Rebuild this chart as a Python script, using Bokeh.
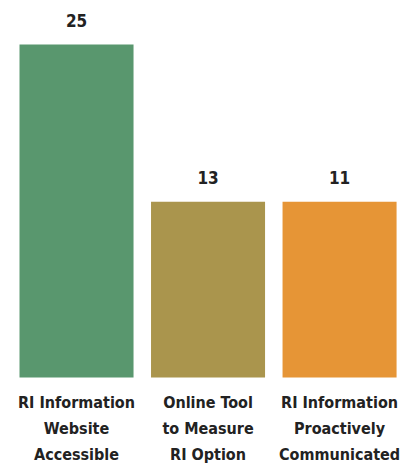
from bokeh.plotting import figure
from bokeh.models import ColumnDataSource, Range1d
from bokeh.core.properties import value
from bokeh.embed import file_html
from bokeh.resources import INLINE

categories = ["RI Information\nWebsite\nAccessible", "Online Tool\nto Measure\nRI Option", "RI Information\nProactively\nCommunicated"]
bar_heights = [25, 13.2, 13.2]
value_labels = ["25", "13", "11"]
colors = ["#59976E", "#AA954D", "#E69536"]

xs = list(range(len(categories)))
src = ColumnDataSource(dict(x=xs, top=bar_heights, lab=value_labels, cat=categories, color=colors, zero=[0]*len(xs)))

p = figure(width=406, height=465, output_backend="svg", toolbar_location=None,
           x_range=Range1d(-0.578, 2.509), y_range=Range1d(-6.607, 28.30),
           min_border=0, outline_line_color=None)
p.xaxis.visible = False
p.yaxis.visible = False
p.grid.visible = False
p.background_fill_color = "white"
p.border_fill_color = "white"

p.vbar(x="x", top="top", bottom=0, width=0.867, color="color", line_color=None, source=src)

font = value("DejaVu Sans Condensed")
p.text(x="x", y="top", text="lab", source=src, text_align="center", text_baseline="middle",
       y_offset=-24, text_font=font, text_font_style="bold", text_font_size="17px", text_color="#222222")
p.text(x="x", y="zero", text="cat", source=src, text_align="center", text_baseline="top",
       y_offset=16, text_font=font, text_font_style="bold", text_font_size="16px", text_color="#222222",
       text_line_height=1.35)

open("out.html", "w").write(file_html(p, INLINE))
